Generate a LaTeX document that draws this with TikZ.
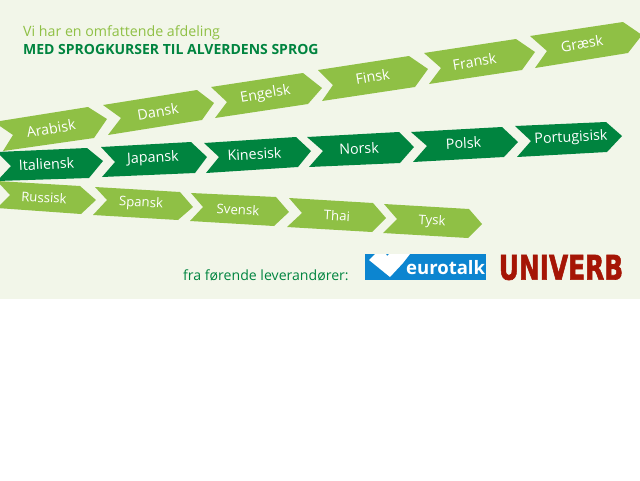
\documentclass[tikz,border=0pt]{standalone}
\usepackage{fontspec}
\setmainfont{Open Sans}
\newfontfamily\univfont[UprightFont=* Bold, FakeBold=2]{DejaVu Sans}
\usepackage{xcolor}
\definecolor{pagebg}{HTML}{F2F6E9}
\definecolor{lightgrn}{HTML}{8FC045}
\definecolor{darkgrn}{HTML}{00843F}
\definecolor{euroblue}{HTML}{0C85D0}
\definecolor{univred}{HTML}{A51505}
\tikzstyle{lang} = [text=white, inner sep=0pt, font=\fontsize{14.3}{14}\selectfont]
\tikzstyle{langsmall} = [lang, font=\fontsize{13.2}{13}\selectfont]
\tikzstyle{caption} = [anchor=west, inner sep=0pt]

\begin{document}
\begin{tikzpicture}[x=1pt, y=-1pt]
    \clip (0,0) rectangle (640,480);
    \fill [white] (0,0) rectangle (640,480);
    \fill [pagebg] (0,0) rectangle (640,298.5);

    \node (intro) [caption, text=lightgrn, font=\fontsize{14.2}{14}\selectfont] at (23,32.5) {Vi har en omfattende afdeling};
    \node (head) [caption, text=darkgrn, font=\fontsize{14}{14}\selectfont\bfseries] at (23,49) {MED SPROGKURSER TIL ALVERDENS SPROG};

    % top row
    \fill [lightgrn] (-6,122) -- (88,107) -- (107,119) -- (94,138) -- (3,151) -- (13,135) -- cycle;
    \fill [lightgrn] (103,105) -- (197,90) -- (214,103) -- (202,120) -- (108,135) -- (121,118) -- cycle;
    \fill [lightgrn] (211,87) -- (303,73) -- (322,88) -- (308,104) -- (215,118) -- (227,102) -- cycle;
    \fill [lightgrn] (318,70) -- (409,56) -- (428,69) -- (415,87) -- (322,101) -- (333,85) -- cycle;
    \fill [lightgrn] (424,53) -- (516,39) -- (535,52) -- (522,70) -- (429,84) -- (441,68) -- cycle;
    \fill [lightgrn] (530,36) -- (623,22) -- (642,35) -- (628,53) -- (535,68) -- (547,51) -- cycle;
    \node (arabisk) [lang, rotate=9.5] at (51,128.5) {Arabisk};
    \node (dansk)   [lang, rotate=9.5] at (158,111.5) {Dansk};
    \node (engelsk) [lang, rotate=9.5] at (265.5,94.5) {Engelsk};
    \node (finsk)   [lang, rotate=9.5] at (372.5,76.5) {Finsk};
    \node (fransk)  [lang, rotate=9.5] at (474.5,61.5) {Fransk};
    \node (graesk)  [lang, rotate=9.5] at (582,43.5) {Græsk};

    % middle row
    \fill [darkgrn] (-3,152) -- (87,148) -- (103,161) -- (89,178) -- (-3,181) -- (11,166) -- cycle;
    \fill [darkgrn] (101,147) -- (191,142) -- (207,157) -- (195,173) -- (102,177) -- (115,162) -- cycle;
    \fill [darkgrn] (204,143) -- (296,137) -- (311,151) -- (298,167) -- (206,173) -- (219,157) -- cycle;
    \fill [darkgrn] (307,137) -- (399,132) -- (414,147) -- (400,163) -- (309,167) -- (323,151) -- cycle;
    \fill [darkgrn] (411,132) -- (502,127) -- (518,142) -- (504,157) -- (413,162) -- (427,146) -- cycle;
    \fill [darkgrn] (515,126) -- (606,122) -- (622,136) -- (607,152) -- (517,157) -- (531,141) -- cycle;
    \node (italiensk)   [lang, rotate=3] at (46.5,164) {Italiensk};
    \node (japansk)     [lang, rotate=3] at (153,158.5) {Japansk};
    \node (kinesisk)    [lang, rotate=3] at (254.5,154) {Kinesisk};
    \node (norsk)       [lang, rotate=3] at (359,148.5) {Norsk};
    \node (polsk)       [lang, rotate=3] at (463.5,143) {Polsk};
    \node (portugisisk) [lang, rotate=3] at (571,138) {Portugisisk};

    % bottom row
    \fill [lightgrn] (-3,181) -- (80,186) -- (96,200) -- (81,214) -- (-3,208) -- (10,195) -- cycle;
    \fill [lightgrn] (95,187) -- (180,192) -- (193,207) -- (178,220) -- (93,215) -- (107,200) -- cycle;
    \fill [lightgrn] (191,193) -- (276,197) -- (289,212) -- (274,226) -- (190,221) -- (203,207) -- cycle;
    \fill [lightgrn] (289,198) -- (373,203) -- (386,218) -- (372,232) -- (287,227) -- (302,213) -- cycle;
    \fill [lightgrn] (384,204) -- (469,209) -- (482,224) -- (468,238) -- (383,233) -- (397,219) -- cycle;
    \node (russisk) [langsmall, rotate=-3.3] at (44,197.5) {Russisk};
    \node (spansk)  [langsmall, rotate=-3.3] at (141,203.5) {Spansk};
    \node (svensk)  [langsmall, rotate=-3.3] at (238,209.5) {Svensk};
    \node (thai)    [langsmall, rotate=-3.3] at (337,215.5) {Thai};
    \node (tysk)    [langsmall, rotate=-3.3] at (432,221.5) {Tysk};

    \node (from) [caption, text=darkgrn, font=\fontsize{14.1}{14}\selectfont] at (183,275.5) {fra førende leverandører:};

    % logos
    \fill [euroblue] (365,254) rectangle (486,280);
    \fill [white] (369,260) -- (375,254) -- (386,254) -- (387,256) -- (389,254) -- (410,254) -- (403,263) -- (390,277) -- cycle;
    \node (eurotalk) [anchor=west, inner sep=0pt, text=white, font=\fontsize{18.5}{18}\selectfont\bfseries] at (406,268) {eurotalk};
    \node (univerb) [anchor=center, inner sep=0pt, text=univred, xscale=0.73, font=\fontsize{34}{34}\univfont] at (561,267.5) {UNIVERB};
\end{tikzpicture}
\end{document}
